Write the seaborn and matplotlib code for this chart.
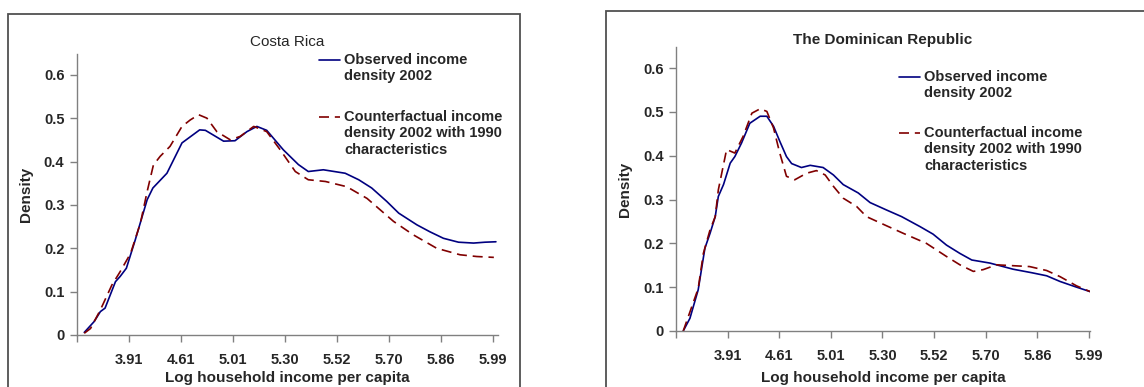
import numpy as np
import pandas as pd
import seaborn as sns
import matplotlib.pyplot as plt
from matplotlib.patches import Rectangle
from matplotlib.lines import Line2D

sns.set_style("white")
plt.rcParams['font.family'] = ['Liberation Sans', 'DejaVu Sans']

# x is in category-axis units (tick 1 = 3.91 ... tick 8 = 5.99)
tick_labels = ["3.91", "4.61", "5.01", "5.30", "5.52", "5.70", "5.86", "5.99"]

cr_obs_x = [0.14, 0.33, 0.45, 0.54, 0.74, 0.83, 0.95, 1.12, 1.35, 1.46, 1.73, 2.02, 2.36, 2.47,
            2.82, 3.04, 3.27, 3.46, 3.65, 3.97, 4.26, 4.45, 4.74, 5.16, 5.42, 5.67, 5.96, 6.19,
            6.54, 6.79, 7.05, 7.34, 7.63, 7.85, 8.06]
cr_obs_y = [0.006, 0.031, 0.054, 0.062, 0.123, 0.135, 0.154, 0.219, 0.312, 0.339, 0.373, 0.443,
            0.473, 0.472, 0.447, 0.448, 0.469, 0.481, 0.472, 0.427, 0.393, 0.377, 0.381, 0.373,
            0.358, 0.339, 0.308, 0.281, 0.254, 0.238, 0.223, 0.214, 0.212, 0.214, 0.215]

cr_cf_x = [0.14, 0.26, 0.45, 0.67, 0.83, 1.03, 1.22, 1.35, 1.47, 1.60, 1.79, 2.02, 2.18, 2.34,
           2.50, 2.69, 2.95, 3.14, 3.40, 3.65, 3.91, 4.20, 4.45, 4.78, 5.19, 5.58, 6.09, 6.47,
           6.92, 7.37, 7.69, 8.02]
cr_cf_y = [0.004, 0.015, 0.058, 0.115, 0.146, 0.188, 0.258, 0.331, 0.392, 0.412, 0.435, 0.481,
           0.496, 0.508, 0.500, 0.469, 0.450, 0.458, 0.481, 0.469, 0.427, 0.377, 0.358, 0.354,
           0.342, 0.315, 0.262, 0.231, 0.200, 0.185, 0.181, 0.179]

dr_obs_x = [0.14, 0.27, 0.43, 0.56, 0.66, 0.76, 0.82, 0.92, 1.05, 1.14, 1.27, 1.43, 1.63, 1.76,
            1.89, 2.01, 2.14, 2.24, 2.43, 2.60, 2.85, 3.05, 3.24, 3.53, 3.76, 4.08, 4.37, 4.73,
            4.98, 5.24, 5.50, 5.73, 6.08, 6.53, 6.89, 7.18, 7.44, 7.76, 8.02]
dr_obs_y = [0.000, 0.029, 0.094, 0.189, 0.223, 0.261, 0.307, 0.334, 0.383, 0.398, 0.429, 0.474,
            0.490, 0.490, 0.467, 0.433, 0.398, 0.382, 0.373, 0.378, 0.373, 0.356, 0.334, 0.315,
            0.293, 0.276, 0.261, 0.238, 0.221, 0.196, 0.177, 0.162, 0.155, 0.141, 0.133, 0.126,
            0.113, 0.100, 0.090]

dr_cf_x = [0.14, 0.43, 0.53, 0.66, 0.76, 0.82, 0.98, 1.14, 1.30, 1.47, 1.63, 1.76, 1.89, 2.01,
           2.14, 2.30, 2.53, 2.72, 2.89, 3.05, 3.24, 3.50, 3.69, 4.08, 4.40, 4.85, 5.24, 5.50,
           5.76, 5.95, 6.21, 6.53, 6.85, 7.18, 7.44, 7.76, 8.02]
dr_cf_y = [0.000, 0.097, 0.177, 0.231, 0.261, 0.322, 0.414, 0.406, 0.444, 0.497, 0.507, 0.501,
           0.463, 0.406, 0.353, 0.345, 0.360, 0.366, 0.356, 0.330, 0.303, 0.284, 0.261, 0.240,
           0.223, 0.200, 0.170, 0.151, 0.136, 0.140, 0.151, 0.149, 0.147, 0.138, 0.124, 0.103,
           0.090]

obs_label = "Observed income\ndensity 2002"
cf_label = "Counterfactual income\ndensity 2002 with 1990\ncharacteristics"

blue = "#000080"
red = "#800000"
W, H = 1144, 387

fig = plt.figure(figsize=(W / 100, H / 100), dpi=100)

# outer chart frames (Excel chart areas)
fig.patches.append(Rectangle((8 / W, -0.1), 512 / W, (H - 14) / H + 0.1, transform=fig.transFigure,
                             fill=False, edgecolor="#505050", lw=1.3))
fig.patches.append(Rectangle((606 / W, -0.1), 0.5, (H - 11) / H + 0.1, transform=fig.transFigure,
                             fill=False, edgecolor="#505050", lw=1.3))

panels = [
    dict(rect=[77 / W, (H - 335) / H, 421 / W, 281 / H], xmax=8.1, title="Costa Rica", tw="normal",
         tpad=6, xpad=3, obs=(cr_obs_x, cr_obs_y), cf=(cr_cf_x, cr_cf_y),
         leg_x=0.575, leg_y=[0.979, 0.776]),
    dict(rect=[676 / W, (H - 331) / H, 414 / W, 284 / H], xmax=8.02, title="The Dominican Republic",
         tw="bold", tpad=2.5, xpad=5.5, obs=(dr_obs_x, dr_obs_y), cf=(dr_cf_x, dr_cf_y),
         leg_x=0.539, leg_y=[0.894, 0.697]),
]

for p in panels:
    ax = fig.add_axes(p["rect"])
    obs = pd.DataFrame({"x": p["obs"][0], "y": p["obs"][1]})
    cf = pd.DataFrame({"x": p["cf"][0], "y": p["cf"][1]})
    sns.lineplot(data=obs, x="x", y="y", ax=ax, color=blue, lw=1.2, sort=False, estimator=None)
    sns.lineplot(data=cf, x="x", y="y", ax=ax, color=red, lw=1.2, sort=False, estimator=None,
                 linestyle=(0, (6, 3.5)))

    ax.set_xlim(0, p["xmax"])
    ax.set_ylim(0, 0.648)
    ax.set_xticks(np.arange(0, 9))
    ax.set_xticklabels([""] + tick_labels, fontweight="bold", fontsize=10.5)
    ax.set_yticks([0, 0.1, 0.2, 0.3, 0.4, 0.5, 0.6])
    ax.set_yticklabels(["0", "0.1", "0.2", "0.3", "0.4", "0.5", "0.6"], fontweight="bold", fontsize=10.5)
    ax.tick_params(axis="both", direction="out", length=5, width=1, color="#808080",
                   bottom=True, left=True, pad=4)
    ax.tick_params(axis="x", pad=8)
    for s in ["top", "right"]:
        ax.spines[s].set_visible(False)
    for s in ["left", "bottom"]:
        ax.spines[s].set_color("#808080")
        ax.spines[s].set_linewidth(1)
    ax.set_xlabel("Log household income per capita", fontweight="bold", fontsize=11, labelpad=p["xpad"])
    ax.set_ylabel("Density", fontweight="bold", fontsize=11, labelpad=8)
    ax.set_title(p["title"], fontweight=p["tw"], fontsize=11, pad=p["tpad"])

    # legend drawn Excel-style: line sample beside first text row
    lx = p["leg_x"]
    for (lab, col, ls), ly in zip([(obs_label, blue, "-"), (cf_label, red, (0, (6, 3.5)))], p["leg_y"]):
        ax.add_line(Line2D([lx, lx + 0.05], [ly, ly], transform=ax.transAxes, color=col, lw=1.2,
                           linestyle=ls, clip_on=False))
        ax.text(lx + 0.06, ly + 0.024, lab, transform=ax.transAxes, fontweight="bold", fontsize=10.5,
                va="top", ha="left", linespacing=1.2)

fig.savefig("out.png", dpi=100)
